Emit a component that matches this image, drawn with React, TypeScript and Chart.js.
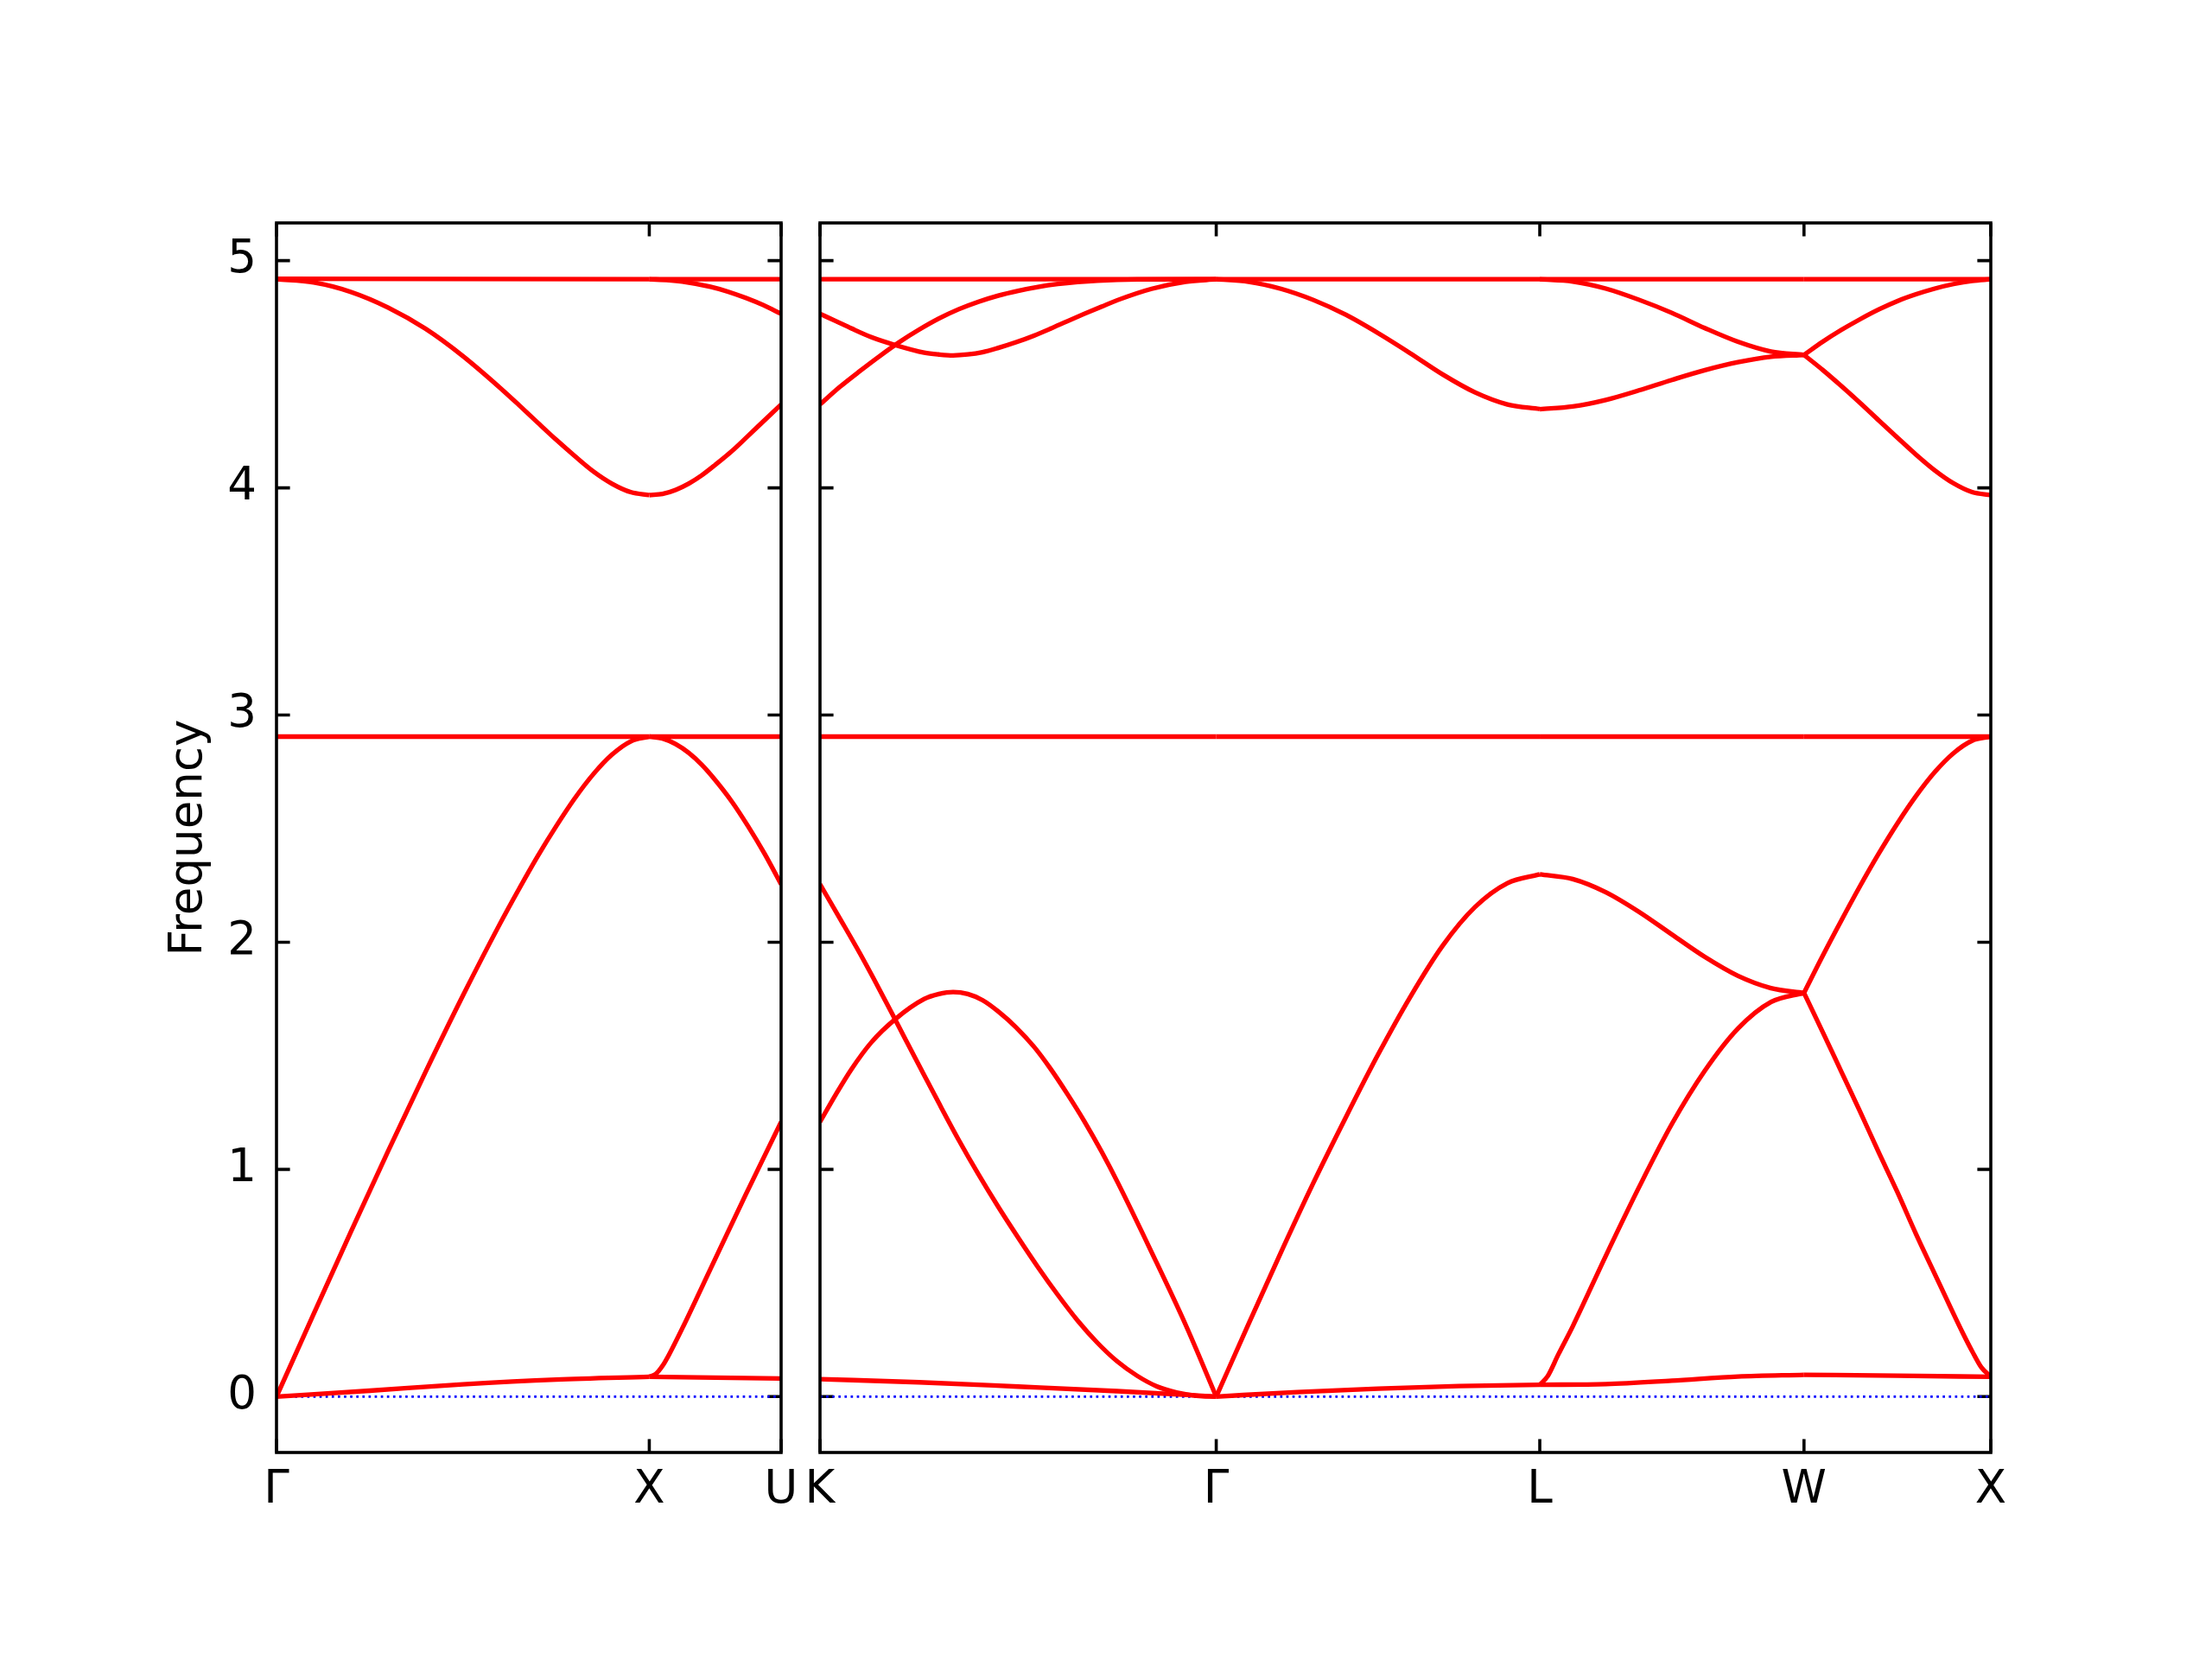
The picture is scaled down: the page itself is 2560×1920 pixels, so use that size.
import React, { useEffect, useRef } from 'react';
import { Chart, registerables } from 'chart.js';

Chart.register(...registerables);

// ---------- axis data ----------
const Y_MIN = -0.246;
const Y_MAX = 5.166;
const Y_TICKS = [0, 1, 2, 3, 4, 5];
const Y_TITLE = 'Frequency';

const LEFT_TICKS = [0, 1, 1.3536];
const LEFT_LABELS = ['Γ', 'X', 'U'];
const RIGHT_TICKS = [1.3536, 2.4142, 3.2802, 3.9874, 4.4874];
const RIGHT_LABELS = ['K', 'Γ', 'L', 'W', 'X'];

// ---------- band data: [fraction along segment, frequency] ----------
// Γ – X
const GX_B1 = [[0, 4.92], [1, 4.918]];
const GX_B2 = [[0, 4.918], [0.1, 4.904], [0.2, 4.862], [0.3, 4.793], [0.4, 4.7], [0.5, 4.58], [0.6, 4.44], [0.65, 4.365], [0.7, 4.288], [0.75, 4.212], [0.8, 4.14], [0.85, 4.072], [0.9, 4.018], [0.95, 3.981], [1, 3.968]];
const GX_B3 = [[0, 2.905], [1, 2.905]];
const GX_B4 = [[0, 0], [0.1, 0.365], [0.2, 0.727], [0.3, 1.083], [0.4, 1.43], [0.5, 1.765], [0.6, 2.083], [0.65, 2.233], [0.7, 2.377], [0.75, 2.51], [0.8, 2.633], [0.85, 2.74], [0.9, 2.826], [0.95, 2.884], [1, 2.905]];
const GX_B5 = [[0, 0], [0.25, 0.026], [0.5, 0.054], [0.75, 0.075], [1, 0.087]];
// X – U
const XU_B1 = [[0, 4.918], [1, 4.918]];
const XU_B2 = [[0, 4.918], [0.15, 4.914], [0.25, 4.908], [0.464, 4.885], [0.6, 4.863], [0.732, 4.836], [0.866, 4.804], [1, 4.766]];
const XU_B3 = [[0, 3.968], [0.1, 3.973], [0.2, 3.991], [0.3, 4.019], [0.4, 4.056], [0.5, 4.101], [0.625, 4.161], [0.75, 4.229], [0.875, 4.298], [1, 4.367]];
const XU_B4 = [[0, 2.905], [1, 2.905]];
const XU_B5 = [[0, 2.905], [0.1, 2.897], [0.2, 2.872], [0.3, 2.833], [0.4, 2.78], [0.5, 2.714], [0.625, 2.62], [0.75, 2.51], [0.875, 2.389], [1, 2.255]];
const XU_B6 = [[0, 0.087], [0.05, 0.1], [0.1, 0.135], [0.15, 0.185], [0.25, 0.3], [0.464, 0.562], [0.732, 0.89], [1, 1.209]];
const XU_B7 = [[0, 0.087], [1, 0.08]];
// K – Γ
const KG_B1 = [[0, 4.918], [1, 4.918]];
const KG_B2 = [[0, 4.766], [0.04, 4.734], [0.079, 4.702], [0.13, 4.663], [0.189, 4.629], [0.263, 4.595], [0.3, 4.587], [0.336, 4.583], [0.373, 4.587], [0.41, 4.597], [0.45, 4.616], [0.495, 4.641], [0.54, 4.67], [0.581, 4.7], [0.625, 4.734], [0.666, 4.765], [0.71, 4.797], [0.752, 4.827], [0.837, 4.876], [0.923, 4.907], [1, 4.918]];
const KG_B3 = [[0, 4.367], [0.05, 4.444], [0.1, 4.513], [0.15, 4.579], [0.2, 4.641], [0.25, 4.696], [0.3, 4.745], [0.35, 4.786], [0.4, 4.819], [0.45, 4.846], [0.5, 4.867], [0.55, 4.884], [0.6, 4.897], [0.65, 4.906], [0.7, 4.912], [0.8, 4.917], [1, 4.918]];
const KG_B4 = [[0, 2.905], [1, 2.905]];
const KG_B5 = [[0, 2.255], [0.05, 2.105], [0.1, 1.953], [0.15, 1.792], [0.2, 1.625], [0.25, 1.458], [0.3, 1.292], [0.35, 1.13], [0.4, 0.978], [0.45, 0.835], [0.5, 0.7], [0.55, 0.57], [0.6, 0.448], [0.65, 0.335], [0.7, 0.237], [0.75, 0.155], [0.8, 0.092], [0.85, 0.045], [0.9, 0.018], [0.95, 0.004], [1, 0]];
const KG_B6 = [[0, 1.209], [0.04, 1.33], [0.079, 1.44], [0.13, 1.56], [0.189, 1.66], [0.263, 1.75], [0.3, 1.772], [0.336, 1.781], [0.373, 1.772], [0.41, 1.745], [0.45, 1.695], [0.495, 1.625], [0.54, 1.54], [0.581, 1.445], [0.625, 1.33], [0.666, 1.215], [0.71, 1.08], [0.752, 0.94], [0.837, 0.635], [0.923, 0.315], [1, 0]];
const KG_B7 = [[0, 0.077], [0.25, 0.063], [0.5, 0.044], [0.75, 0.024], [1, 0]];
// Γ – L
const GL_B1 = [[0, 4.918], [1, 4.918]];
const GL_B2 = [[0, 4.918], [0.1, 4.907], [0.2, 4.876], [0.3, 4.827], [0.4, 4.762], [0.5, 4.681], [0.6, 4.592], [0.7, 4.499], [0.8, 4.42], [0.9, 4.367], [1, 4.347]];
const GL_B3 = [[0, 2.905], [1, 2.905]];
const GL_B4 = [[0, 0], [0.1, 0.32], [0.2, 0.635], [0.3, 0.94], [0.4, 1.228], [0.5, 1.505], [0.6, 1.76], [0.7, 1.985], [0.8, 2.155], [0.9, 2.26], [1, 2.299]];
const GL_B5 = [[0, 0], [0.25, 0.02], [0.5, 0.035], [0.75, 0.046], [1, 0.052]];
// L – W
const LW_B1 = [[0, 4.918], [1, 4.918]];
const LW_B2 = [[0, 4.918], [0.125, 4.908], [0.25, 4.877], [0.375, 4.828], [0.5, 4.77], [0.625, 4.703], [0.75, 4.643], [0.875, 4.6], [1, 4.585]];
const LW_B3 = [[0, 4.346], [0.125, 4.358], [0.25, 4.387], [0.375, 4.429], [0.5, 4.475], [0.625, 4.518], [0.75, 4.553], [0.875, 4.577], [1, 4.585]];
const LW_B4 = [[0, 2.905], [1, 2.905]];
const LW_B5 = [[0, 2.299], [0.125, 2.278], [0.25, 2.22], [0.375, 2.134], [0.5, 2.034], [0.625, 1.935], [0.75, 1.852], [0.875, 1.798], [1, 1.777]];
const LW_B6 = [[0, 0.052], [0.03, 0.09], [0.07, 0.185], [0.125, 0.31], [0.25, 0.62], [0.375, 0.92], [0.5, 1.2], [0.625, 1.435], [0.75, 1.62], [0.875, 1.737], [1, 1.777]];
const LW_B7 = [[0, 0.052], [0.25, 0.055], [0.5, 0.07], [0.75, 0.088], [1, 0.096]];
// W – X
const WX_B1 = [[0, 4.918], [1, 4.918]];
const WX_B2 = [[0, 4.585], [0.1, 4.643], [0.2, 4.695], [0.3, 4.742], [0.4, 4.785], [0.5, 4.822], [0.6, 4.852], [0.7, 4.877], [0.8, 4.897], [0.9, 4.911], [1, 4.918]];
const WX_B3 = [[0, 4.585], [0.1, 4.519], [0.2, 4.448], [0.3, 4.374], [0.4, 4.297], [0.5, 4.221], [0.6, 4.146], [0.7, 4.077], [0.8, 4.02], [0.9, 3.981], [1, 3.968]];
const WX_B4 = [[0, 2.905], [1, 2.905]];
const WX_B5 = [[0, 1.777], [0.1, 1.94], [0.2, 2.096], [0.3, 2.247], [0.4, 2.39], [0.5, 2.523], [0.6, 2.644], [0.7, 2.749], [0.8, 2.832], [0.9, 2.887], [1, 2.905]];
const WX_B6 = [[0, 1.777], [0.1, 1.605], [0.2, 1.43], [0.3, 1.255], [0.4, 1.075], [0.5, 0.9], [0.6, 0.715], [0.7, 0.54], [0.8, 0.365], [0.85, 0.28], [0.9, 0.2], [0.95, 0.128], [1, 0.088]];
const WX_B7 = [[0, 0.096], [0.5, 0.092], [1, 0.087]];

const LEFT_SEGMENTS = [
  { from: 0, to: 1, bands: [GX_B1, GX_B2, GX_B3, GX_B4, GX_B5] },
  { from: 1, to: 2, bands: [XU_B1, XU_B2, XU_B3, XU_B4, XU_B5, XU_B6, XU_B7] },
];
const RIGHT_SEGMENTS = [
  { from: 0, to: 1, bands: [KG_B1, KG_B2, KG_B3, KG_B4, KG_B5, KG_B6, KG_B7] },
  { from: 1, to: 2, bands: [GL_B1, GL_B2, GL_B3, GL_B4, GL_B5] },
  { from: 2, to: 3, bands: [LW_B1, LW_B2, LW_B3, LW_B4, LW_B5, LW_B6, LW_B7] },
  { from: 3, to: 4, bands: [WX_B1, WX_B2, WX_B3, WX_B4, WX_B5, WX_B6, WX_B7] },
];

// ---------- layout ----------
const FONT = { family: 'DejaVu Sans', size: 53 };
const AREA_TOP = 258;
const AREA_BOTTOM = 1681;
const PAGE_H = 1920;
const LEFT_CANVAS_W = 926;
const RIGHT_CANVAS_W = 2560 - LEFT_CANVAS_W;
const TICK_LEN = 15.6;

const tickPlugin = {
  id: 'inTicks',
  beforeDatasetsDraw(chart: any) {
    const { ctx, chartArea, scales } = chart;
    const { left, right, top, bottom } = chartArea;
    ctx.save();
    ctx.strokeStyle = '#000';
    ctx.lineWidth = 3.6;
    ctx.lineCap = 'butt';
    ctx.beginPath();
    for (const v of Y_TICKS) {
      const y = scales.y.getPixelForValue(v);
      ctx.moveTo(left, y); ctx.lineTo(left + TICK_LEN, y);
      ctx.moveTo(right, y); ctx.lineTo(right - TICK_LEN, y);
    }
    for (const t of scales.x.ticks) {
      const x = scales.x.getPixelForValue(t.value);
      ctx.moveTo(x, top); ctx.lineTo(x, top + TICK_LEN);
      ctx.moveTo(x, bottom); ctx.lineTo(x, bottom - TICK_LEN);
    }
    ctx.stroke();
    ctx.restore();
  },
  afterDatasetsDraw(chart: any) {
    const { ctx, chartArea } = chart;
    const { left, right, top, bottom } = chartArea;
    ctx.save();
    ctx.strokeStyle = '#000';
    ctx.lineWidth = 3.6;
    ctx.lineJoin = 'miter';
    ctx.strokeRect(left, top, right - left, bottom - top);
    ctx.restore();
  },
};

function buildConfig(
  segments: { from: number; to: number; bands: number[][][] }[],
  ticks: number[],
  labels: string[],
  showY: boolean,
  canvasW: number,
  areaLeft: number,
  areaRight: number,
) {
  const datasets: any[] = [];
  for (const seg of segments) {
    const x0 = ticks[seg.from];
    const x1 = ticks[seg.to];
    for (const band of seg.bands) {
      datasets.push({
        data: band.map(([f, v]) => ({ x: x0 + f * (x1 - x0), y: v })),
        showLine: true,
        borderColor: '#ff0000',
        backgroundColor: '#ff0000',
        borderWidth: 5.3,
        pointRadius: 0,
        pointHoverRadius: 0,
        cubicInterpolationMode: 'monotone',
        fill: false,
      });
    }
  }
  datasets.push({
    data: [{ x: ticks[0], y: 0 }, { x: ticks[ticks.length - 1], y: 0 }],
    showLine: true,
    borderColor: '#0000ff',
    borderWidth: 2.7,
    borderDash: [2.7, 4.4],
    pointRadius: 0,
    fill: false,
  });

  return {
    type: 'scatter',
    data: { datasets },
    plugins: [tickPlugin],
    options: {
      animation: false,
      responsive: false,
      devicePixelRatio: 1,
      events: [],
      layout: {
        padding: { left: 0, right: canvasW - areaRight, top: AREA_TOP, bottom: 0 },
      },
      plugins: { legend: { display: false }, tooltip: { enabled: false } },
      scales: {
        x: {
          type: 'linear',
          min: ticks[0],
          max: ticks[ticks.length - 1],
          grid: { display: false, drawTicks: false },
          border: { display: false },
          afterBuildTicks: (s: any) => { s.ticks = ticks.map((v) => ({ value: v })); },
          afterFit: (s: any) => {
            s.height = PAGE_H - AREA_BOTTOM;
            s.paddingLeft = 0;
            s.paddingRight = 0;
          },
          ticks: {
            autoSkip: false,
            maxRotation: 0,
            minRotation: 0,
            padding: 12,
            color: '#000',
            font: FONT,
            callback: (_v: any, i: number) => labels[i],
          },
        },
        y: {
          type: 'linear',
          display: showY,
          min: Y_MIN,
          max: Y_MAX,
          grid: { display: false, drawTicks: false },
          border: { display: false },
          afterBuildTicks: (s: any) => { s.ticks = Y_TICKS.map((v) => ({ value: v })); },
          afterFit: (s: any) => { s.width = areaLeft; },
          ticks: {
            padding: 23,
            color: '#000',
            font: FONT,
            callback: (v: any) => String(v),
          },
          title: {
            display: true,
            text: Y_TITLE,
            color: '#000',
            font: FONT,
            padding: { top: 187, bottom: 0 },
          },
        },
      },
    },
  } as any;
}

export default function App() {
  const leftRef = useRef<HTMLCanvasElement>(null);
  const rightRef = useRef<HTMLCanvasElement>(null);

  useEffect(() => {
    const c1 = new Chart(
      leftRef.current as HTMLCanvasElement,
      buildConfig(LEFT_SEGMENTS, LEFT_TICKS, LEFT_LABELS, true, LEFT_CANVAS_W, 320, 904),
    );
    const c2 = new Chart(
      rightRef.current as HTMLCanvasElement,
      buildConfig(RIGHT_SEGMENTS, RIGHT_TICKS, RIGHT_LABELS, false, RIGHT_CANVAS_W, 949 - LEFT_CANVAS_W, 2304 - LEFT_CANVAS_W),
    );
    return () => {
      c1.destroy();
      c2.destroy();
    };
  }, []);

  return (
    <div style={{ position: 'absolute', left: 0, top: 0, width: 2560, height: PAGE_H, background: '#fff' }}>
      <canvas
        ref={leftRef}
        width={LEFT_CANVAS_W}
        height={PAGE_H}
        style={{ position: 'absolute', left: 0, top: 0, width: LEFT_CANVAS_W, height: PAGE_H }}
      />
      <canvas
        ref={rightRef}
        width={RIGHT_CANVAS_W}
        height={PAGE_H}
        style={{ position: 'absolute', left: LEFT_CANVAS_W, top: 0, width: RIGHT_CANVAS_W, height: PAGE_H }}
      />
    </div>
  );
}
